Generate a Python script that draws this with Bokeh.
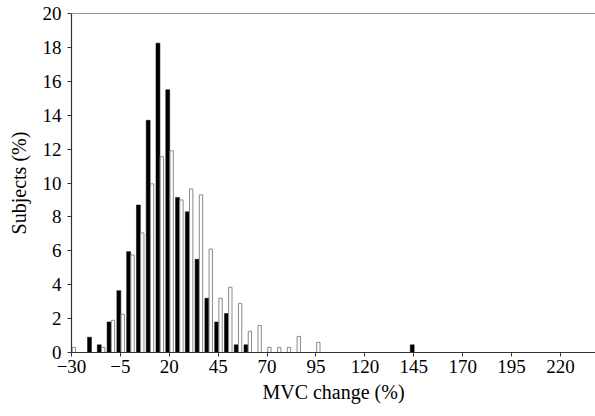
from bokeh.plotting import figure
from bokeh.models import FixedTicker, Span, ColumnDataSource
from bokeh.embed import file_html
from bokeh.resources import INLINE

# Data (bin start values of MVC change, % of subjects)
black_bins = [-20, -15, -10, -5, 0, 5, 10, 15, 20, 25, 30, 35, 40, 45, 50, 55, 60, 145]
black_vals = [0.9, 0.45, 1.8, 3.65, 5.95, 8.7, 13.7, 18.25, 15.5, 9.15, 8.3, 5.5, 3.2, 1.8, 2.3, 0.45, 0.45, 0.45]

white_bins = [-30, -15, -10, -5, 0, 5, 10, 15, 20, 25, 30, 35, 40, 45, 50, 55, 60, 65, 70, 75, 80, 85, 95]
white_vals = [0.3, 0.3, 1.9, 2.25, 5.75, 7.05, 9.95, 11.55, 11.9, 9.0, 9.65, 9.3, 6.1, 3.2, 3.85, 2.9, 1.25, 1.6, 0.3, 0.3, 0.3, 0.95, 0.6]

x_ticks = [-30, -5, 20, 45, 70, 95, 120, 145, 170, 195, 220]
y_ticks = [0, 2, 4, 6, 8, 10, 12, 14, 16, 18, 20]

FONT = "Liberation Serif"

p = figure(width=595, height=408, x_range=(-30, 237.9), y_range=(0, 20),
           output_backend="svg", toolbar_location=None,
           min_border_left=71, min_border_right=0, min_border_top=13, min_border_bottom=56)
p.background_fill_color = "white"
p.border_fill_color = "white"
p.outline_line_color = None
p.grid.visible = False

black_src = ColumnDataSource(dict(x=[b - 0.8 for b in black_bins], top=black_vals))
white_src = ColumnDataSource(dict(x=[b + 1.2 for b in white_bins], top=white_vals))

p.vbar(x="x", top="top", bottom=0, width=2.0, source=black_src,
       fill_color="black", line_color="black", line_width=0.5)
p.vbar(x="x", top="top", bottom=0, width=1.7, source=white_src,
       fill_color="white", line_color="#8a8a8a", line_width=1)

p.add_layout(Span(location=20, dimension="width", line_color="#333333", line_width=1.2))

for ax in (p.xaxis[0], p.yaxis[0]):
    ax.axis_line_color = "#333333"
    ax.axis_line_width = 1.2
    ax.major_tick_line_color = "#333333"
    ax.major_tick_in = 0
    ax.major_tick_out = 4
    ax.minor_tick_line_color = None
    ax.major_label_text_font = FONT
    ax.major_label_text_font_size = "19px"
    ax.major_label_text_color = "black"
    ax.axis_label_text_font = FONT
    ax.axis_label_text_font_size = "20px"
    ax.axis_label_text_font_style = "normal"
    ax.axis_label_text_color = "black"

p.xaxis.ticker = FixedTicker(ticks=x_ticks)
p.xaxis.major_label_overrides = {t: (str(t).replace("-", "\u2212")) for t in x_ticks}
p.yaxis.ticker = FixedTicker(ticks=y_ticks)
p.xaxis.axis_label = "MVC change (%)"
p.yaxis.axis_label = "Subjects (%)"
p.xaxis.major_label_standoff = 3
p.xaxis.axis_label_standoff = 5
p.yaxis.major_label_standoff = 6
p.yaxis.axis_label_standoff = 10

open("out.html", "w").write(file_html(p, INLINE))
